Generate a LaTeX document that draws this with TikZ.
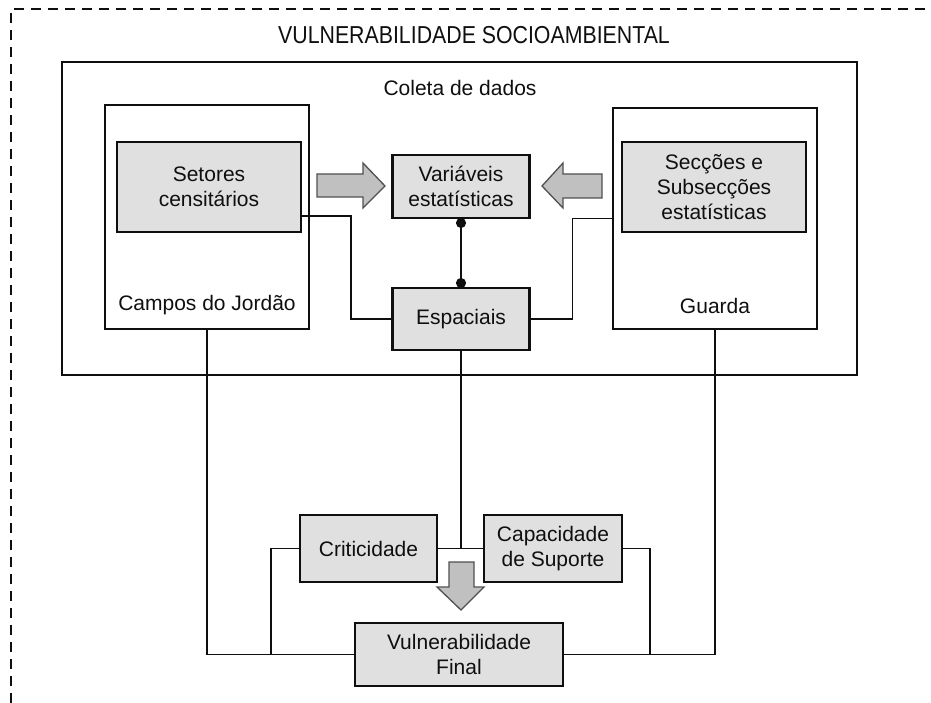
\documentclass[tikz,border=0pt]{standalone}
\usepackage{fontspec}
\usepackage{graphicx}
\setmainfont{Liberation Sans}
\usetikzlibrary{arrows.meta}

\definecolor{boxfill}{RGB}{224,224,224}
\definecolor{arrowfill}{RGB}{192,192,192}
\definecolor{arrowline}{RGB}{80,80,80}
\definecolor{ink}{RGB}{15,15,15}

\begin{document}
\begin{tikzpicture}[x=1pt,y=-1pt,
  every node/.style={font=\fontsize{21}{25}\selectfont, text=ink},
  outerbox/.style={draw=ink, line width=1.8pt, rectangle, inner sep=0pt, outer sep=0pt},
  databox/.style={draw=ink, line width=2.2pt, fill=boxfill, rectangle, inner sep=0pt, outer sep=0pt, align=center},
  link/.style={draw=ink, line width=1.8pt},
  blockarrow/.style={draw=arrowline, line width=1.3pt, fill=arrowfill, line join=miter},
  boxcaption/.style={inner sep=0pt}
]
\useasboundingbox (0,0) rectangle (931,703);

% dashed outer frame (open towards right and bottom)
\draw[ink, line width=2pt, dash pattern=on 10pt off 7pt] (11,703) -- (11,9) -- (931,9);

% title
\node[boxcaption] (title) at (474,35)
  {\scalebox{0.87}[1]{\fontsize{24.5}{28}\selectfont VULNERABILIDADE SOCIOAMBIENTAL}};

% data collection block
\node[outerbox, minimum width=795pt, minimum height=313pt] (coleta) at (459.5,218.5) {};
\node[boxcaption] (coletalbl) at (460,88) {Coleta de dados};

% Campos do Jordão
\node[outerbox, minimum width=204pt, minimum height=224pt] (campos) at (207,217) {};
\node[databox, minimum width=184pt, minimum height=90pt] (setores) at (209,187) {Setores\\censitários};
\node[boxcaption] (camposlbl) at (207,305) {Campos do Jordão};

% Guarda
\node[outerbox, minimum width=204pt, minimum height=221pt] (guarda) at (715,218.5) {};
\node[databox, minimum width=184pt, minimum height=90pt] (seccoes) at (714,187) {Secções e\\Subsecções\\estatísticas};
\node[boxcaption] (guardalbl) at (715,306) {Guarda};

% central variables
\node[databox, minimum width=137pt, minimum height=63pt] (variaveis) at (461,186.5) {Variáveis\\estatísticas};
\node[databox, minimum width=137pt, minimum height=62pt] (espaciais) at (461,319) {Espaciais};

% indicators
\node[databox, minimum width=137pt, minimum height=67pt] (criticidade) at (368.5,548.5) {Criticidade};
\node[databox, minimum width=138pt, minimum height=67pt] (capacidade) at (553,548.5) {Capacidade\\de Suporte};
\node[databox, minimum width=208pt, minimum height=63pt] (vulnfinal) at (459,654.5) {Vulnerabilidade\\Final};

% block arrows
\draw[blockarrow] (317,174) -- (363,174) -- (363,163) -- (385,186) -- (363,208) -- (363,197) -- (317,197) -- cycle;
\draw[blockarrow] (602,174) -- (563,174) -- (563,163) -- (542,186) -- (563,208) -- (563,198) -- (602,198) -- cycle;
\draw[blockarrow] (449,562) -- (474,562) -- (474,587) -- (484,587) -- (461,610) -- (437,587) -- (449,587) -- cycle;

% connectors
\draw[link, {Circle[length=10pt]}-{Circle[length=10pt]}] (variaveis.south) -- (espaciais.north);
\draw[link] ([yshift=-29pt]setores.east) -- ++(50,0) |- (espaciais.west);
\draw[link] (espaciais.east) -- ++(43,0) |- (guarda.west);
\draw[link] (espaciais.south) -- (espaciais.south |- criticidade.east);
\draw[link] (criticidade.east) -- (capacidade.west);
\draw[link] (campos.south) |- (vulnfinal.west);
\draw[link] (guarda.south) |- (vulnfinal.east);
\draw[link] (criticidade.west) -- ++(-29,0) |- (vulnfinal.west);
\draw[link] (capacidade.east) -- ++(28,0) |- (vulnfinal.east);
\end{tikzpicture}
\end{document}
